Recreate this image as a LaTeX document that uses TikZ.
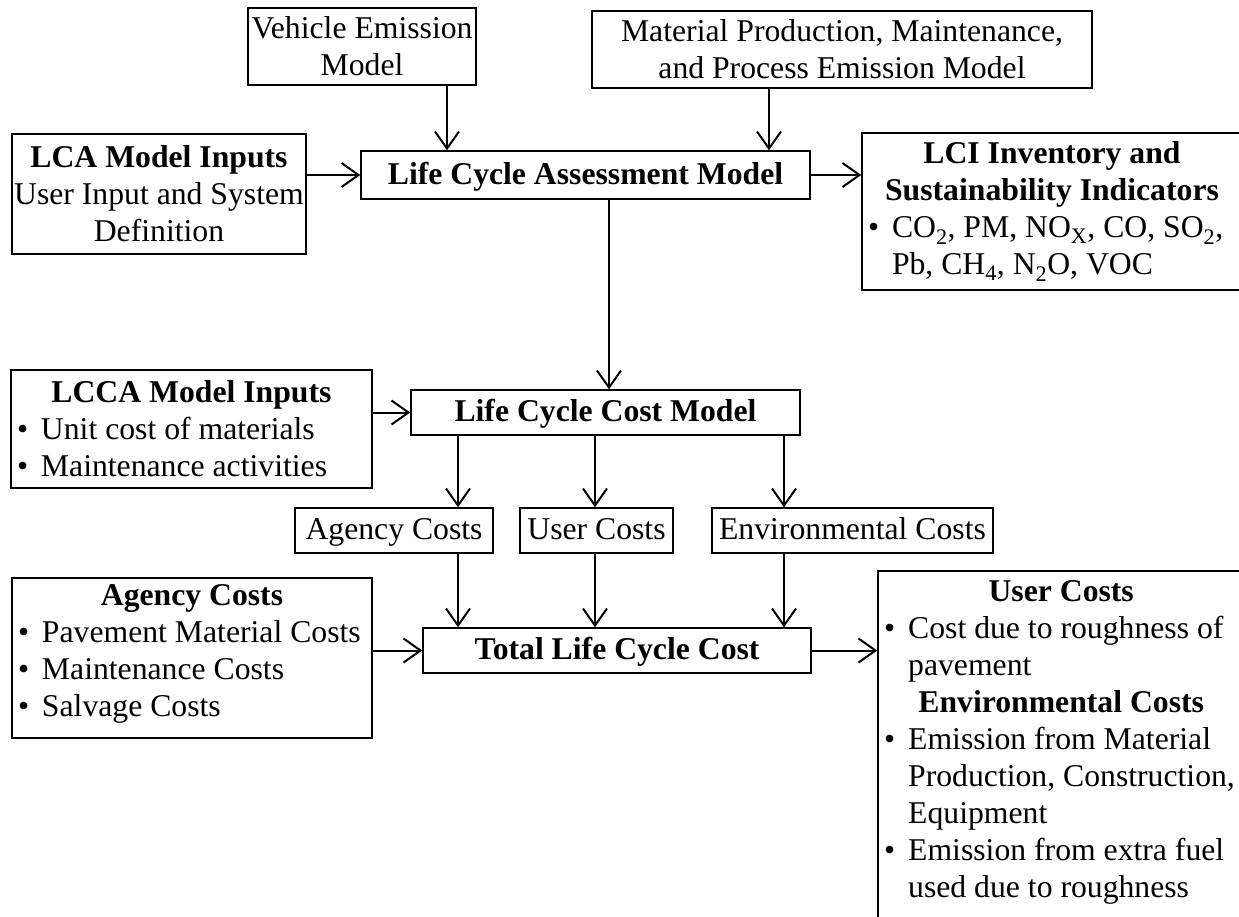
\documentclass[tikz,border=0pt]{standalone}
\usepackage{fontspec}
\setmainfont{Liberation Serif}
\usetikzlibrary{arrows.meta}
\tikzset{
  x=1pt, y=-1pt,
  box/.style={draw, line width=1.5pt, inner sep=0pt, align=center,
    font=\fontsize{31.7}{37}\selectfont},
  onel/.style={text height=23pt, text depth=5pt},
  txt/.style={inner sep=0pt, align=flush left, font=\fontsize{31.7}{37}\selectfont},
  arr/.style={line width=2pt, -{Straight Barb[length=17pt,width=24pt,line width=2pt]}}
}
\newcommand\ctr[1]{\makebox[\linewidth][c]{#1}}
\newcommand\bul{\makebox[24pt][l]{\textbullet}}
\newcommand\ind{\hspace*{24pt}}
\begin{document}
\begin{tikzpicture}
\useasboundingbox (0,0) rectangle (1239,916);
\clip (0,0) rectangle (1239,916);

% assessment stage
\node[box, minimum width=228, minimum height=77] (veh) at (362,46.5)
  {Vehicle Emission\\Model};
\node[box, minimum width=500, minimum height=77] (mat) at (842,49.5)
  {Material Production, Maintenance,\\and Process Emission Model};
\node[box, minimum width=294, minimum height=120] (lcain) at (159,194)
  {\textbf{LCA Model Inputs}\\User Input and System\\Definition};
\node[box, onel, minimum width=449, minimum height=48] (lcam) at (585.5,175)
  {\textbf{Life Cycle Assessment Model}};
\node[box, minimum width=380, minimum height=157] (lci) at (1052,211.5) {};
\node[txt, text width=368] (lcit) at (lci.center)
  {\ctr{\textbf{LCI Inventory and}}\\
   \ctr{\textbf{Sustainability Indicators}}\\
   \bul CO\textsubscript{2}, PM, NO\textsubscript{X}, CO, SO\textsubscript{2},\\
   \ind Pb, CH\textsubscript{4}, N\textsubscript{2}O, VOC};

% cost stage
\node[box, minimum width=361, minimum height=118] (lccin) at (191.5,429) {};
\node[txt, text width=349] (lccint) at (lccin.center)
  {\ctr{\textbf{LCCA Model Inputs}}\\
   \bul Unit cost of materials\\
   \bul Maintenance activities};
\node[box, onel, minimum width=389, minimum height=45] (lccm) at (605.5,412.5)
  {\textbf{Life Cycle Cost Model}};
\node[box, onel, minimum width=198, minimum height=45] (ag) at (394,530.5) {Agency Costs};
\node[box, onel, minimum width=153, minimum height=45] (us) at (596.5,530.5) {User Costs};
\node[box, onel, minimum width=281, minimum height=45] (env) at (852.5,530.5) {Environmental Costs};

\node[box, minimum width=360, minimum height=160] (agb) at (192,658) {};
\node[txt, text width=348] (agbt) at (192,654)
  {\ctr{\textbf{Agency Costs}}\\
   \bul Pavement Material Costs\\
   \bul Maintenance Costs\\
   \bul Salvage Costs};
\node[box, onel, minimum width=388, minimum height=45] (tlcc) at (617,650.5)
  {\textbf{Total Life Cycle Cost}};

\node[box, minimum width=382, minimum height=369] (rb) at (1069,755.5) {};
\node[txt, text width=354, anchor=north west] (rbt) at (884,580)
  {\ctr{\textbf{User Costs}}\\
   \bul Cost due to roughness of\\
   \ind pavement\\
   \ctr{\textbf{Environmental Costs}}\\
   \bul Emission from Material\\
   \ind Production, Construction,\\
   \ind Equipment\\
   \bul Emission from extra fuel\\
   \ind used due to roughness};

% connector columns
\coordinate (xa) at (447,0);
\coordinate (xb) at (769,0);
\coordinate (xc) at (609,0);
\coordinate (xd) at (458,0);
\coordinate (xe) at (595,0);
\coordinate (xf) at (784,0);

\draw[arr] (veh.south -| xa) -- (lcam.north -| xa);
\draw[arr] (mat.south -| xb) -- (lcam.north -| xb);
\draw[arr] (lcain.east |- lcam.west) -- (lcam.west);
\draw[arr] (lcam.east) -- (lcam.east -| lci.west);
\draw[arr] (lcam.south -| xc) -- (lccm.north -| xc);
\draw[arr] (lccin.east |- lccm.west) -- (lccm.west);
\draw[arr] (lccm.south -| xd) -- (ag.north -| xd);
\draw[arr] (lccm.south -| xe) -- (us.north -| xe);
\draw[arr] (lccm.south -| xf) -- (env.north -| xf);
\draw[arr] (ag.south -| xd) -- (tlcc.north -| xd);
\draw[arr] (us.south -| xe) -- (tlcc.north -| xe);
\draw[arr] (env.south -| xf) -- (tlcc.north -| xf);
\draw[arr] (agb.east |- tlcc.west) -- (tlcc.west);
\draw[arr] (tlcc.east) -- (tlcc.east -| rb.west);
\end{tikzpicture}
\end{document}
